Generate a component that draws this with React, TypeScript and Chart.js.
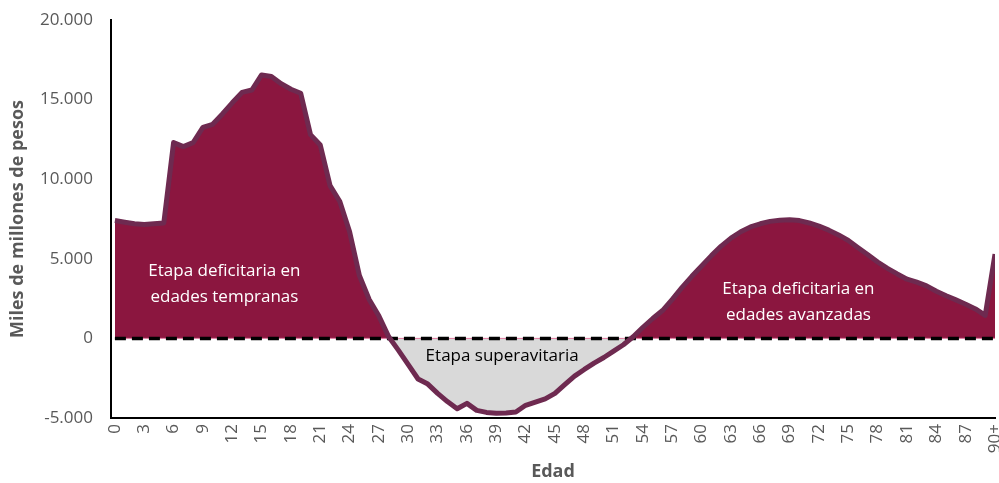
import React, { useEffect, useRef } from "react";
import { Chart, registerables } from "chart.js";

Chart.register(...registerables);

const ageLabels = [
  "0","1","2","3","4","5","6","7","8","9",
  "10","11","12","13","14","15","16","17","18","19",
  "20","21","22","23","24","25","26","27","28","29",
  "30","31","32","33","34","35","36","37","38","39",
  "40","41","42","43","44","45","46","47","48","49",
  "50","51","52","53","54","55","56","57","58","59",
  "60","61","62","63","64","65","66","67","68","69",
  "70","71","72","73","74","75","76","77","78","79",
  "80","81","82","83","84","85","86","87","88","89",
  "90+",
];

// Déficit del ciclo de vida (miles de millones de pesos)
const lifeCycleDeficit = [
  7400, 7300, 7200, 7150, 7200, 7250, 12300, 12050, 12300, 13250,
  13450, 14100, 14800, 15450, 15600, 16550, 16450, 16000, 15650, 15400,
  12800, 12150, 9600, 8600, 6700, 3950, 2450, 1400, 100, -750,
  -1650, -2550, -2870, -3450, -3970, -4420, -4080, -4520, -4650, -4700,
  -4680, -4620, -4200, -4000, -3800, -3450, -2900, -2370, -1950, -1550,
  -1200, -800, -400, 100, 700, 1250, 1750, 2450, 3200, 3900,
  4550, 5200, 5800, 6300, 6700, 7000, 7200, 7350, 7420, 7450,
  7400, 7250, 7050, 6800, 6500, 6150, 5700, 5250, 4800, 4400,
  4050, 3720, 3530, 3300, 2960, 2680, 2420, 2150, 1850, 1450,
  5300,
];

const zeroLine = ageLabels.map(() => 0);

const yTicks = { min: -5000, max: 20000, step: 5000 };

const annotations = [
  { lines: ["Etapa deficitaria en", "edades tempranas"], age: 11.2, value: 3420, color: "#ffffff" },
  { lines: ["Etapa superavitaria"], age: 39.6, value: -1130, color: "#000000" },
  { lines: ["Etapa deficitaria en", "edades avanzadas"], age: 69.9, value: 2290, color: "#ffffff" },
];

const FONT = "'Open Sans', 'Noto Sans', sans-serif";

function fmtNumber(v: number): string {
  const s = Math.abs(Math.round(v)).toString().replace(/\B(?=(\d{3})+(?!\d))/g, ".");
  return (v < 0 ? "-" : "") + s;
}

const annotationPlugin = {
  id: "stageLabels",
  afterDatasetsDraw(chart: any) {
    const { ctx, scales } = chart;
    ctx.save();
    ctx.font = `17px ${FONT}`;
    ctx.textAlign = "center";
    ctx.textBaseline = "middle";
    const lh = 26;
    annotations.forEach((a) => {
      const cx = scales.x.getPixelForValue(a.age);
      const cy = scales.y.getPixelForValue(a.value);
      ctx.fillStyle = a.color;
      const n = a.lines.length;
      a.lines.forEach((t, i) => {
        ctx.fillText(t, cx, cy + (i - (n - 1) / 2) * lh);
      });
    });
    ctx.restore();
  },
};

export default function App() {
  const ref = useRef<HTMLCanvasElement | null>(null);

  useEffect(() => {
    if (!ref.current) return;
    const points = lifeCycleDeficit.map((v, i) => ({ x: i, y: v }));
    const zeros = zeroLine.map((v, i) => ({ x: i, y: v }));
    const chart = new Chart(ref.current, {
      type: "line",
      data: {
        datasets: [
          {
            data: points,
            borderColor: "#6E2A50",
            borderWidth: 5,
            pointRadius: 0,
            tension: 0,
            borderJoinStyle: "round",
            fill: { target: "origin", above: "#8B163F", below: "#D9D9D9" },
          } as any,
          {
            data: zeros,
            borderColor: "#000000",
            borderWidth: 3.5,
            borderDash: [11, 6],
            pointRadius: 0,
            fill: false,
          },
          {
            data: zeros,
            borderColor: "#E07AA0",
            borderWidth: 1,
            pointRadius: 0,
            fill: false,
          },
        ],
      },
      options: {
        animation: false,
        responsive: true,
        maintainAspectRatio: false,
        layout: { padding: { left: 0, right: 4, top: 20, bottom: 0 } },
        plugins: {
          legend: { display: false },
          tooltip: { enabled: false },
          filler: { drawTime: "beforeDatasetsDraw" } as any,
        },
        scales: {
          x: {
            type: "linear",
            min: -0.4,
            max: ageLabels.length - 1,
            grid: { display: false, drawTicks: false },
            border: { display: true, color: "#000000", width: 2 },
            ticks: {
              stepSize: 3,
              includeBounds: false,
              autoSkip: false,
              maxTicksLimit: 200,
              minRotation: 90,
              maxRotation: 90,
              color: "#595959",
              font: { family: FONT, size: 17 },
              padding: 6,
              callback: (v: any) => ageLabels[v as number] ?? "",
            },
            title: {
              display: true,
              text: "Edad",
              color: "#595959",
              font: { family: FONT, size: 18, weight: "bold" },
              padding: 0,
            },
            afterFit: (s: any) => {
              s.height = 65;
              s.paddingLeft = 0;
              s.paddingRight = 0;
            },
          },
          y: {
            min: yTicks.min,
            max: yTicks.max,
            grid: { display: false, drawTicks: false },
            border: { display: true, color: "#000000", width: 2 },
            ticks: {
              stepSize: yTicks.step,
              color: "#595959",
              font: { family: FONT, size: 17 },
              padding: 18,
              callback: (v: any) => fmtNumber(v as number),
            },
            title: {
              display: true,
              text: "Miles de millones de pesos",
              color: "#595959",
              font: { family: FONT, size: 18, weight: "bold" },
              padding: { top: 7, bottom: 0 },
            },
            afterFit: (s: any) => {
              s.width = 111;
              s.paddingTop = 0;
              s.paddingBottom = 0;
            },
          },
        },
      },
      plugins: [annotationPlugin],
    });
    return () => chart.destroy();
  }, []);

  return (
    <div style={{ position: "fixed", left: 0, top: 0, width: 999, height: 483, background: "#fff" }}>
      <canvas ref={ref} />
    </div>
  );
}
